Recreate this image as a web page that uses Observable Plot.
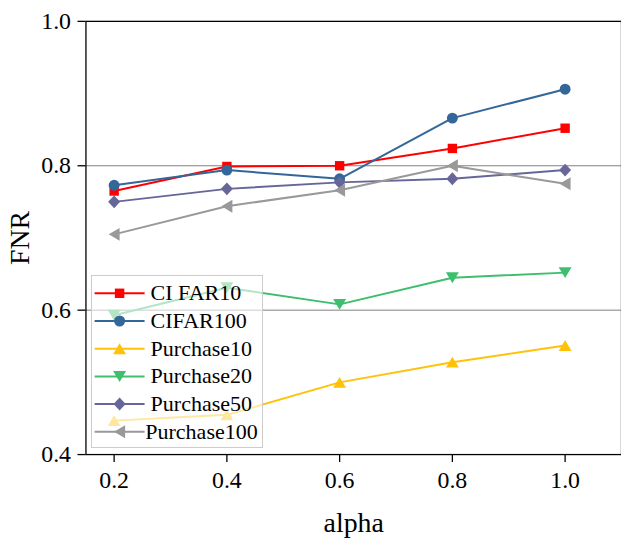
<!DOCTYPE html>
<html>
<head>
<meta charset="utf-8">
<script src="https://cdn.jsdelivr.net/npm/d3@7"></script>
<script src="https://cdn.jsdelivr.net/npm/@observablehq/plot@0.6"></script>
<style>
  html, body { margin: 0; padding: 0; background: #fff; }
  #wrap { position: relative; width: 621px; height: 538px; overflow: hidden; font-family: "Liberation Serif", serif; }
  #wrap svg, #wrap text, #wrap tspan { font-family: "Liberation Serif", serif !important; font-variant: normal !important; }
  #legend { position: absolute; left: 91px; top: 275px; }
</style>
</head>
<body>
<div id="wrap"></div>
<script>
// ---- data ----
const alpha = [0.2, 0.4, 0.6, 0.8, 1.0];
const cifar10 = [0.765, 0.799, 0.800, 0.824, 0.852];
const cifar100 = [0.773, 0.794, 0.782, 0.866, 0.906];
const purchase10 = [0.447, 0.455, 0.500, 0.528, 0.551];
const purchase20 = [0.593, 0.631, 0.608, 0.645, 0.652];
const purchase50 = [0.750, 0.768, 0.777, 0.782, 0.794];
const purchase100 = [0.705, 0.744, 0.766, 0.800, 0.775];
const seriesNames = ["CI FAR10", "CIFAR100", "Purchase10", "Purchase20", "Purchase50", "Purchase100"];
const seriesValues = [cifar10, cifar100, purchase10, purchase20, purchase50, purchase100];
const colors = ["#ff0000", "#336699", "#ffc20a", "#3dbf6e", "#66669a", "#999999"];
const yTicks = [0.4, 0.6, 0.8, 1.0];
const xTicks = [0.2, 0.4, 0.6, 0.8, 1.0];
const gridLines = [0.6, 0.8];

// ---- marker shapes ----
const R = s => Math.sqrt(s / Math.PI);
const symSquare = {draw(c, s) { const r = R(s) * 0.86; c.rect(-r, -r, 2 * r, 2 * r); }};
const symCircle = {draw(c, s) { const r = R(s); c.moveTo(r, 0); c.arc(0, 0, r, 0, 2 * Math.PI); }};
const symTriUp = {draw(c, s) { const r = R(s); const w = r * 1.18, h = r * 1.0;
  c.moveTo(0, -h); c.lineTo(w, h); c.lineTo(-w, h); c.closePath(); }};
const symTriDown = {draw(c, s) { const r = R(s); const w = r * 1.18, h = r * 1.0;
  c.moveTo(0, h); c.lineTo(w, -h); c.lineTo(-w, -h); c.closePath(); }};
const symDiamond = {draw(c, s) { const r = R(s); const w = r * 1.1, h = r * 1.18;
  c.moveTo(0, -h); c.lineTo(w, 0); c.lineTo(0, h); c.lineTo(-w, 0); c.closePath(); }};
const symTriLeft = {draw(c, s) { const r = R(s); const w = r * 1.0, h = r * 1.18;
  c.moveTo(-w, 0); c.lineTo(w, -h); c.lineTo(w, h); c.closePath(); }};
const symbols = [symSquare, symCircle, symTriUp, symTriDown, symDiamond, symTriLeft];

const series = seriesNames.map((name, i) => ({
  name, color: colors[i], symbol: symbols[i],
  data: alpha.map((a, j) => ({alpha: a, value: seriesValues[i][j]}))
}));

const font = "Liberation Serif, serif";

const marks = [
  Plot.ruleY(gridLines, {stroke: "#808080", strokeWidth: 1}),
];
for (const s of series) {
  marks.push(Plot.line(s.data, {x: "alpha", y: "value", stroke: s.color, strokeWidth: 2}));
  marks.push(Plot.dot(s.data, {x: "alpha", y: "value", fill: s.color, r: 5.5, symbol: s.symbol, stroke: "none"}));
}
marks.push(Plot.frame({stroke: "black", strokeWidth: 1.3}));
marks.push(Plot.text(["FNR"], {frameAnchor: "left", text: d => d, rotate: -90, dx: -66,
  fontSize: 28, textAnchor: "middle", lineAnchor: "middle", fill: "black"}));
marks.push(Plot.text(["alpha"], {frameAnchor: "bottom", text: d => d, dy: 69,
  fontSize: 28, textAnchor: "middle", lineAnchor: "middle", fill: "black"}));

const chart = Plot.plot({
  width: 625,
  height: 538,
  marginLeft: 86,
  marginRight: 0,
  marginTop: 21,
  marginBottom: 81,
  style: {fontFamily: font, fontSize: "24px", color: "black", background: "white", overflow: "visible"},
  x: {domain: [0.15, 1.1], ticks: xTicks, tickFormat: d3.format(".1f"), tickSize: 8, tickPadding: 9, label: null},
  y: {domain: [0.4, 1.0], ticks: yTicks, tickFormat: d3.format(".1f"), tickSize: 8, tickPadding: 7, label: null},
  marks
});
const wrap = document.getElementById("wrap");
wrap.appendChild(chart);
d3.select(chart).selectAll("g[aria-label$='tick'] path, g[aria-label$='tick'] line").attr("stroke-width", 1.3);

// ---- legend (matplotlib-style box) ----
const lw = 171, lh = 172;
const lg = d3.select(wrap).append("svg").attr("id", "legend")
  .attr("width", lw + 2).attr("height", lh + 2);
lg.append("rect").attr("x", 0.5).attr("y", 0.5).attr("width", lw).attr("height", lh)
  .attr("fill", "white").attr("fill-opacity", 0.6).attr("stroke", "#cccccc").attr("stroke-width", 1);
series.forEach((s, i) => {
  const cy = 18.3 + i * 27.7;
  const g = lg.append("g");
  g.append("line").attr("x1", 3.6).attr("x2", 53.6).attr("y1", cy).attr("y2", cy)
    .attr("stroke", s.color).attr("stroke-width", 2);
  g.append("path").attr("d", d3.symbol().type(s.symbol).size(Math.PI * 5.5 * 5.5)())
    .attr("transform", `translate(28.6,${cy})`).attr("fill", s.color);
  g.append("text").attr("x", i === 5 ? 54.3 : 59.6).attr("y", cy + 7)
    .style("font-family", font).style("font-size", "22px").attr("fill", "black").text(s.name);
});
</script>
</body>
</html>
